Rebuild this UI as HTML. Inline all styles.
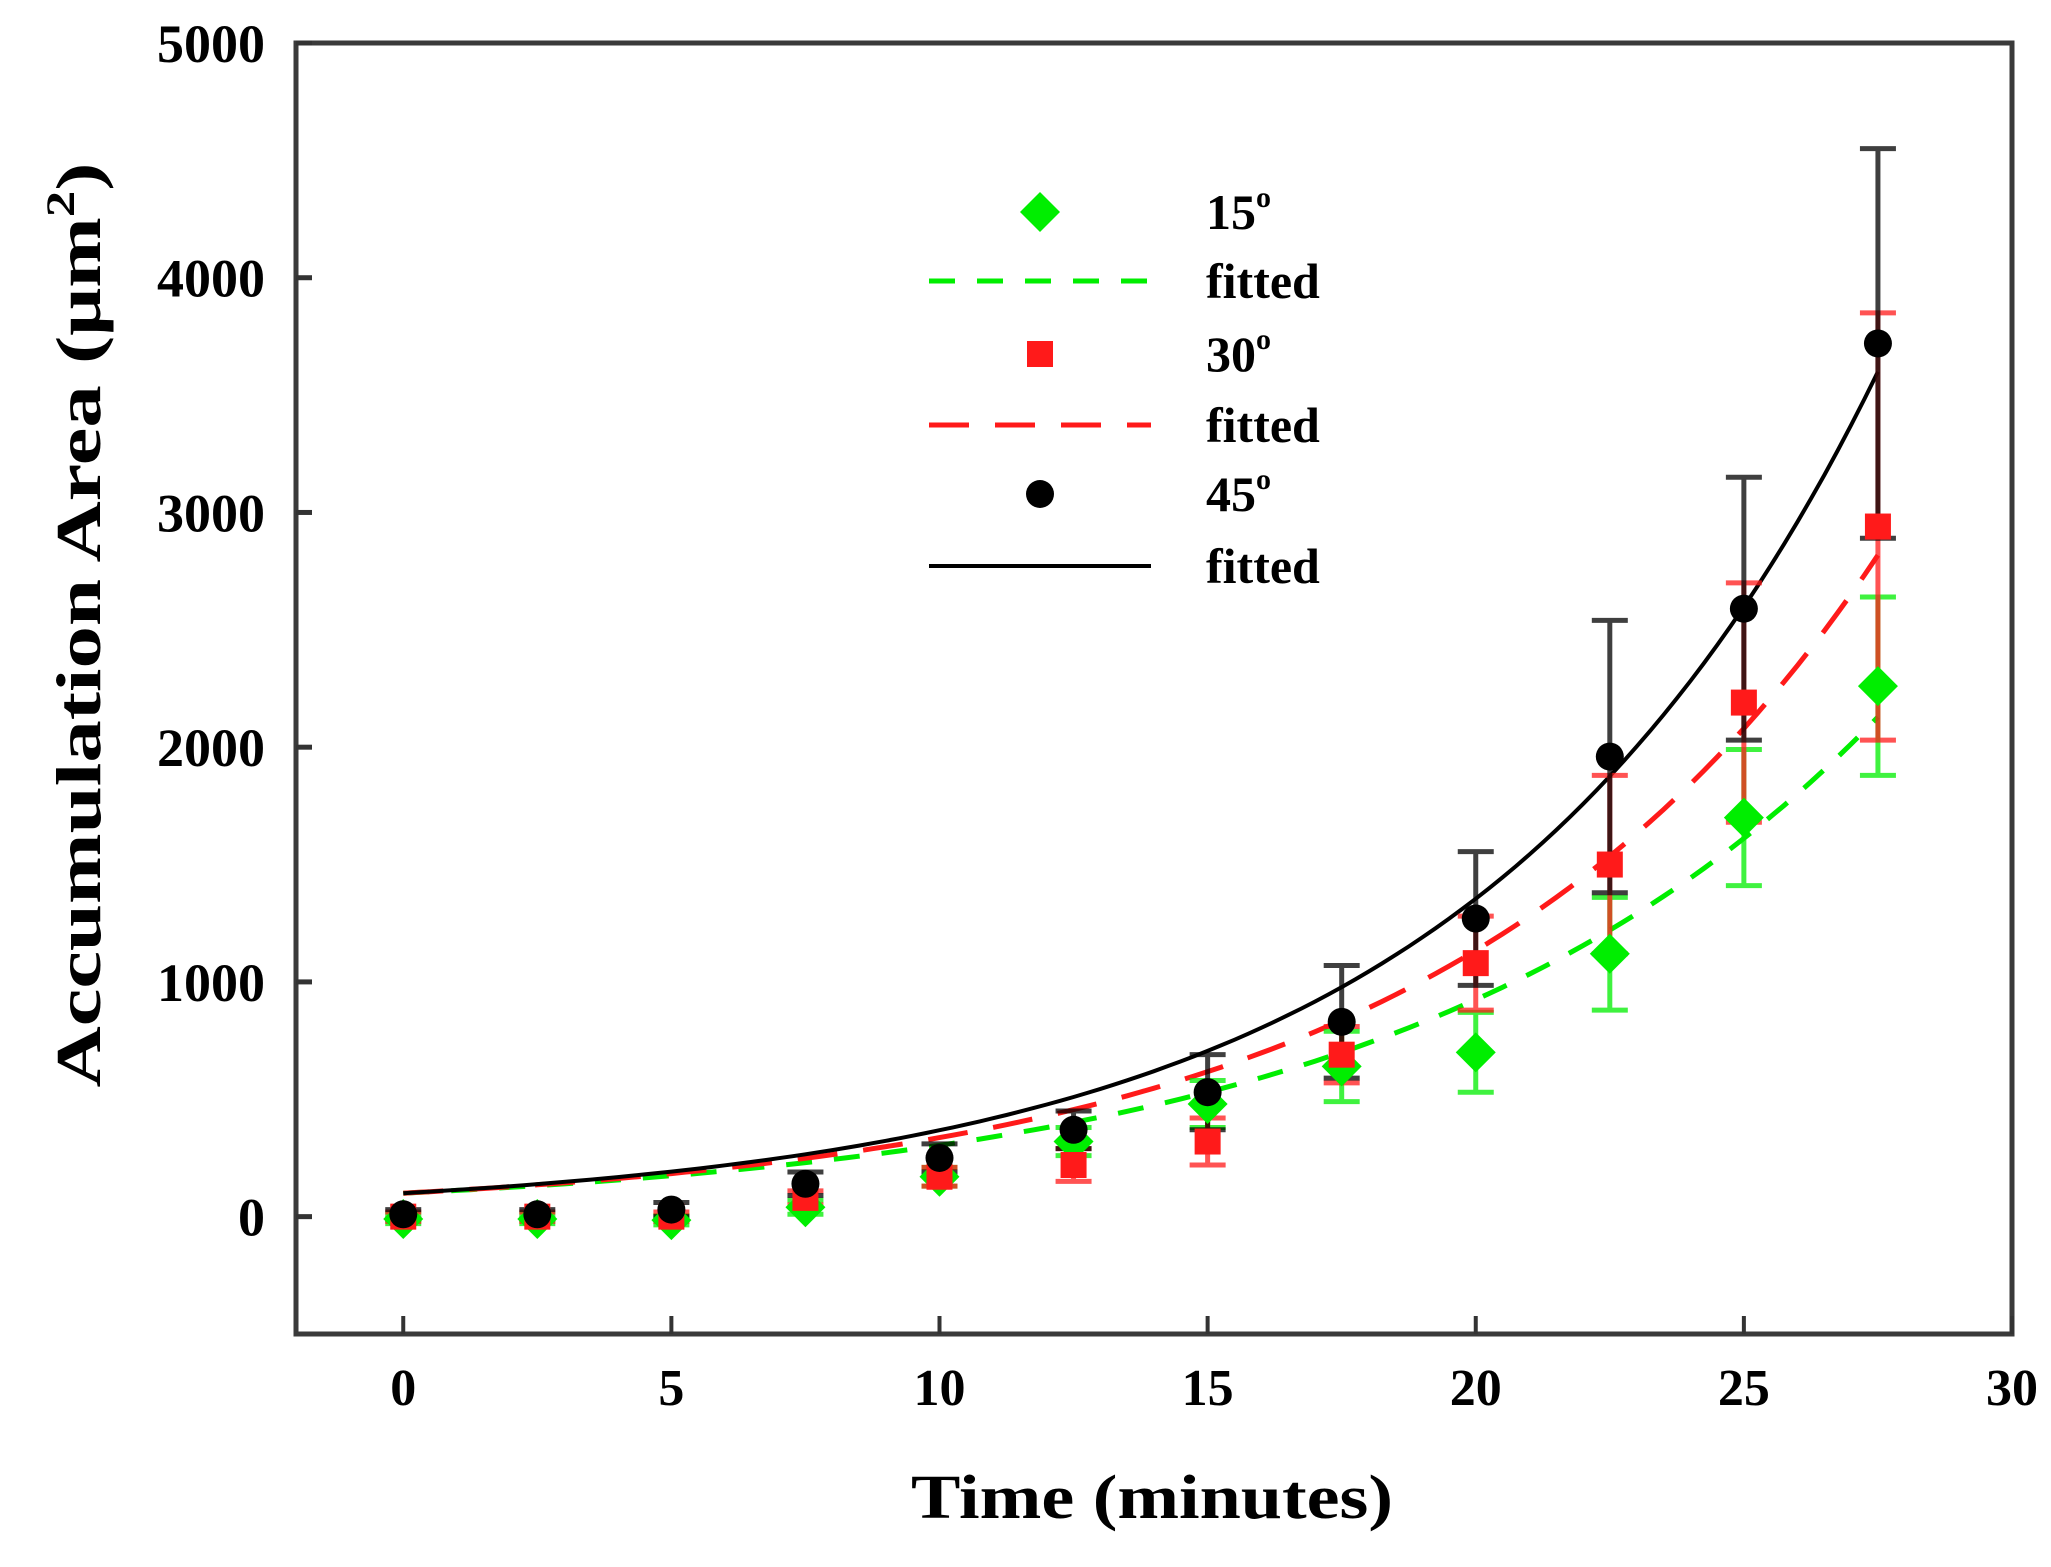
<!DOCTYPE html>
<html><head><meta charset="utf-8">
<style>
html,body{margin:0;padding:0;background:#fff;}
svg{display:block;font-family:"Liberation Serif",serif;font-weight:bold;}
</style></head>
<body>
<svg id="chart" width="2051" height="1567" viewBox="0 0 2051 1567" xmlns="http://www.w3.org/2000/svg">
<rect x="0" y="0" width="2051" height="1567" fill="#fff"/>
<g id="axes"></g>
<g id="fits"></g>
<g id="errs"></g>
<g id="marks"></g>
<g id="legend"></g>
<text transform="translate(100,625) rotate(-90)" text-anchor="middle" font-size="64" textLength="925" lengthAdjust="spacingAndGlyphs">Accumulation Area  (μm<tspan dy="-26" font-size="40">2</tspan><tspan dy="26">)</tspan></text>
<text x="1152" y="1518" text-anchor="middle" font-size="62" textLength="482" lengthAdjust="spacingAndGlyphs">Time  (minutes)</text>
</svg>
<script>
const times = [0,2.5,5,7.5,10,12.5,15,17.5,20,22.5,25,27.5];
const green = [-10,-10,-15,40,170,320,480,640,700,1120,1700,2260];
const greenErr = [20,20,20,30,40,60,100,150,170,240,290,380];
const red = [0,0,0,80,170,220,320,690,1080,1500,2190,2940];
const redErr = [20,20,20,30,40,70,100,120,200,380,510,910];
const black = [10,10,30,140,250,370,530,830,1270,1960,2590,3720];
const blackErr = [20,20,30,50,60,80,160,240,285,580,560,830];
const fitA = [100,100,100];
const fitB = [0.1112,0.1214,0.1303];
const xTicks = [0,5,10,15,20,25,30];
const yTicks = [0,1000,2000,3000,4000,5000];

const L=296,R=2012,T=43,B=1334;
const xMin=-2,xMax=30,yMin=-500,yMax=5000;
const X=v=>L+(v-xMin)/(xMax-xMin)*(R-L);
const Y=v=>B-(v-yMin)/(yMax-yMin)*(B-T);
const NS="http://www.w3.org/2000/svg";
function mk(tag,attrs,parent){const e=document.createElementNS(NS,tag);for(const k in attrs)e.setAttribute(k,attrs[k]);parent.appendChild(e);return e;}

const axes=document.getElementById('axes');
let frame=mk('rect',{x:L,y:T,width:R-L,height:B-T,fill:'none',stroke:'#3a3a3a','stroke-width':5},axes);


xTicks.forEach(t=>{
  let tk=mk('line',{x1:X(t),x2:X(t),y1:B,y2:B-18,stroke:'#333','stroke-width':4},axes);
  
  
  let tl=mk('text',{x:X(t),y:1405,'text-anchor':'middle','font-size':52},axes);
  tl.textContent=t;
  
  
});
yTicks.forEach(t=>{
  let tk=mk('line',{x1:L,x2:L+16,y1:Y(t),y2:Y(t),stroke:'#333','stroke-width':5},axes);
  
  
  let tl=mk('text',{x:265,y:Y(t)+19,'text-anchor':'end','font-size':54},axes);
  tl.textContent=t;
  
  
});

const colors=['#00ee00','#ff1a1a','#000'];
const dashes=['26,22','40,26','none'];
const names=['15','30','45'];
const fits=document.getElementById('fits');
for(let s=0;s<3;s++){
  let d='';
  for(let i=0;i<=110;i++){const t=27.5*i/110;const v=fitA[s]*Math.exp(fitB[s]*t);d+=(i?'L':'M')+X(t).toFixed(1)+','+Y(v).toFixed(1);}
  let p=mk('path',{d:d,fill:'none',stroke:colors[s],'stroke-width':s==2?4:5,'stroke-dasharray':dashes[s]},fits);
  
  
}

const series=[[green,greenErr],[red,redErr],[black,blackErr]];
const errs=document.getElementById('errs');
const marks=document.getElementById('marks');
function marker(s,cx,cy,parent){
  let e;
  if(s==0){e=mk('polygon',{points:`${cx},${cy-20} ${cx+20},${cy} ${cx},${cy+20} ${cx-20},${cy}`,fill:colors[0]},parent);}
  else if(s==1){e=mk('rect',{x:cx-13,y:cy-13,width:26,height:26,fill:colors[1]},parent);}
  else {e=mk('circle',{cx:cx,cy:cy,r:14,fill:'#000'},parent);}
  return e;
}
for(let s=0;s<3;s++){
  const vals=series[s][0],er=series[s][1];
  times.forEach((t,i)=>{
    const cx=X(t);
    const g=mk('g',{stroke:colors[s],'stroke-width':5,opacity:s==2?0.75:0.75},errs);
    
    
    const top=Y(vals[i]+er[i]),bot=Y(vals[i]-er[i]);
    mk('line',{x1:cx,x2:cx,y1:top,y2:bot},g);
    mk('line',{x1:cx-18,x2:cx+18,y1:top,y2:top},g);
    mk('line',{x1:cx-18,x2:cx+18,y1:bot,y2:bot},g);
    const m=marker(s,cx,Y(vals[i]),marks);
    
    
  });
}

const leg=document.getElementById('legend');
const rows=[212,281,354,425,494,566];
for(let s=0;s<3;s++){
  const ym=rows[2*s],yl=rows[2*s+1];
  const m=marker(s,1040,ym,leg);
  
  
  const t1=mk('text',{x:1206,y:ym+17,'font-size':50},leg);
  t1.innerHTML=names[s]+'<tspan dy="-22" font-size="30">o</tspan>';
  
  
  const ln=mk('line',{x1:929,x2:1151,y1:yl,y2:yl,stroke:colors[s],'stroke-width':s==2?4:5,'stroke-dasharray':dashes[s]},leg);
  
  
  const t2=mk('text',{x:1206,y:yl+17,'font-size':50},leg);
  t2.textContent='fitted';
  
  
}
</script>
</body></html>
